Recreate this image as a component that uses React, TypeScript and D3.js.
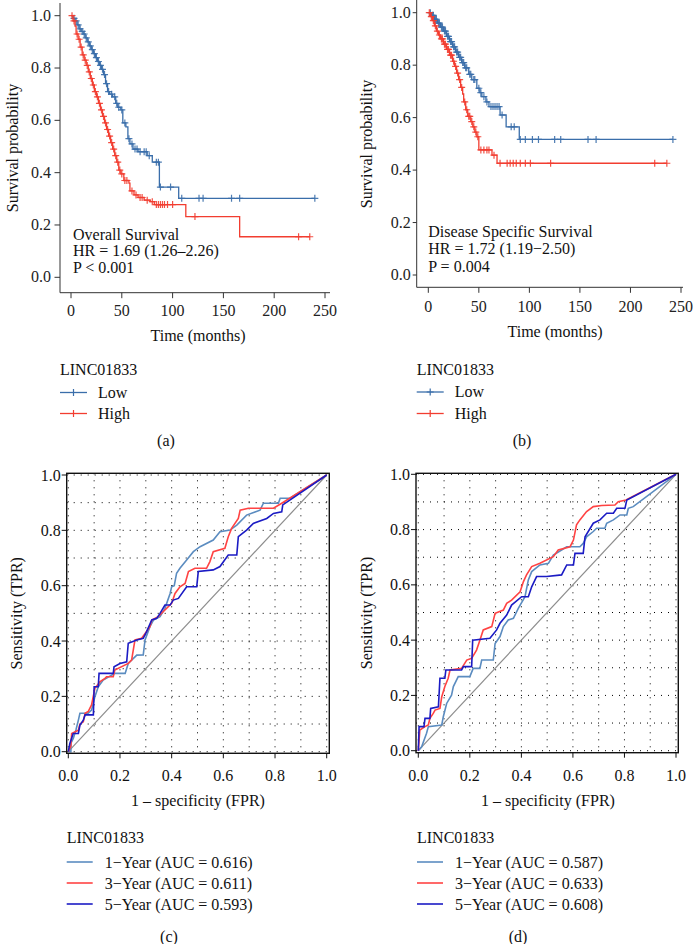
import React from "react";
import * as d3 from "d3";

const FONT = "'Liberation Serif','Times New Roman',serif";

// ---------- Kaplan-Meier data: [time (months), survival] after each drop ----------
const osLowSteps: [number, number][] = [
  [0, 1], [2, 0.99], [4, 0.98], [6, 0.965], [8, 0.95], [10, 0.94], [12, 0.93], [14, 0.915],
  [16, 0.9], [18, 0.885], [20, 0.87], [22, 0.855], [24, 0.84], [26, 0.825], [28, 0.81],
  [30, 0.795], [32, 0.775], [34, 0.74], [36, 0.71], [38, 0.7], [41, 0.69], [44, 0.665],
  [46, 0.65], [49, 0.64], [51, 0.59], [54, 0.575], [56, 0.53], [58, 0.51], [61, 0.49],
  [66, 0.48], [75, 0.465], [80, 0.44], [87, 0.345], [106, 0.302],
];
const osLowCensor = [3, 5, 7, 9, 11, 13, 15, 17, 19, 21, 23, 25, 27, 29, 31, 33, 35, 37, 40, 43, 45, 47, 50, 53, 57, 60, 63, 65, 68, 72, 74, 77, 84, 86, 88, 98, 109, 126, 130, 158, 166, 240];
const osHighSteps: [number, number][] = [
  [0, 1], [2, 0.98], [4, 0.96], [5, 0.93], [7, 0.91], [9, 0.88], [11, 0.85], [13, 0.83],
  [15, 0.81], [17, 0.785], [19, 0.76], [21, 0.735], [23, 0.71], [25, 0.69], [27, 0.665],
  [29, 0.64], [31, 0.615], [33, 0.59], [35, 0.565], [37, 0.54], [39, 0.515], [41, 0.49],
  [43, 0.465], [45, 0.44], [47, 0.41], [49, 0.395], [52, 0.37], [57, 0.36], [58, 0.33],
  [62, 0.315], [66, 0.305], [72, 0.295], [78, 0.289], [82, 0.278], [113, 0.232], [166, 0.155],
];
const osHighCensor = [1, 3, 6, 8, 10, 12, 14, 16, 18, 20, 22, 24, 26, 28, 30, 32, 34, 36, 38, 40, 42, 44, 46, 48, 50, 53, 55, 60, 64, 68, 70, 75, 80, 84, 86, 88, 90, 92, 95, 100, 122, 224, 235];

const dssLowSteps: [number, number][] = [
  [0, 1], [3, 0.99], [6, 0.975], [9, 0.96], [12, 0.945], [15, 0.93], [18, 0.91], [21, 0.89],
  [24, 0.87], [27, 0.85], [30, 0.83], [33, 0.81], [36, 0.79], [40, 0.765], [43, 0.745],
  [48, 0.712], [51, 0.695], [53, 0.68], [57, 0.66], [60, 0.642], [71, 0.61], [77, 0.565], [90, 0.517],
];
const dssLowCensor = [2, 4, 5, 7, 8, 10, 11, 13, 14, 16, 17, 19, 20, 22, 23, 25, 26, 28, 29, 31, 32, 34, 35, 37, 38, 41, 42, 45, 46, 50, 52, 55, 58, 62, 64, 66, 68, 70, 73, 82, 85, 91, 96, 103, 109, 125, 131, 158, 166, 242];
const dssHighSteps: [number, number][] = [
  [0, 1], [2, 0.985], [4, 0.97], [6, 0.95], [8, 0.93], [10, 0.915], [12, 0.9], [15, 0.88],
  [18, 0.86], [21, 0.838], [24, 0.815], [26, 0.795], [28, 0.77], [30, 0.745], [32, 0.715],
  [34, 0.69], [35, 0.66], [37, 0.63], [39, 0.605], [42, 0.585], [44, 0.565], [46, 0.545],
  [48, 0.527], [50, 0.477], [63, 0.457], [68, 0.426],
];
const dssHighCensor = [1, 3, 5, 7, 9, 11, 13, 14, 16, 17, 19, 20, 22, 23, 25, 27, 29, 31, 33, 36, 38, 40, 41, 43, 45, 47, 49, 52, 55, 58, 60, 65, 71, 78, 81, 84, 87, 91, 96, 101, 121, 224, 236];

const kmXTicks = [0, 50, 100, 150, 200, 250];
const kmYTicks = [0, 0.2, 0.4, 0.6, 0.8, 1.0];
const kmGroups = ["Low", "High"];

// ---------- ROC data: [FPR, TPR] ----------
const rocC1: [number, number][] = [[0,0],[0.01,0],[0.01,0.03],[0.02,0.05],[0.03,0.08],[0.039,0.114],[0.045,0.139],[0.077,0.139],[0.09,0.15],[0.103,0.199],[0.116,0.235],[0.135,0.259],[0.18,0.283],[0.22,0.283],[0.232,0.319],[0.265,0.349],[0.29,0.35],[0.297,0.404],[0.316,0.452],[0.33,0.476],[0.355,0.488],[0.374,0.518],[0.394,0.572],[0.4,0.596],[0.41,0.6],[0.419,0.645],[0.432,0.663],[0.458,0.693],[0.484,0.723],[0.51,0.741],[0.561,0.765],[0.587,0.795],[0.626,0.801],[0.652,0.819],[0.69,0.855],[0.742,0.873],[0.755,0.898],[0.813,0.898],[0.82,0.916],[0.858,0.916],[1,1]];
const rocC3: [number, number][] = [[0,0],[0.01,0.02],[0.013,0.066],[0.039,0.078],[0.045,0.1],[0.058,0.108],[0.065,0.139],[0.077,0.145],[0.09,0.169],[0.103,0.229],[0.123,0.253],[0.142,0.265],[0.148,0.271],[0.174,0.271],[0.18,0.295],[0.232,0.319],[0.245,0.331],[0.258,0.404],[0.284,0.41],[0.316,0.452],[0.323,0.476],[0.348,0.488],[0.374,0.512],[0.4,0.536],[0.413,0.572],[0.432,0.596],[0.452,0.608],[0.465,0.651],[0.49,0.663],[0.535,0.663],[0.548,0.687],[0.561,0.723],[0.606,0.735],[0.619,0.777],[0.632,0.807],[0.658,0.843],[0.665,0.873],[0.697,0.88],[0.794,0.88],[0.826,0.898],[1,1]];
const rocC5: [number, number][] = [[0,0],[0.006,0.03],[0.019,0.066],[0.039,0.066],[0.045,0.096],[0.058,0.114],[0.065,0.133],[0.097,0.133],[0.1,0.235],[0.116,0.235],[0.119,0.283],[0.174,0.283],[0.177,0.307],[0.2,0.319],[0.226,0.325],[0.232,0.392],[0.265,0.404],[0.29,0.41],[0.303,0.434],[0.323,0.476],[0.342,0.482],[0.355,0.5],[0.374,0.53],[0.394,0.53],[0.406,0.548],[0.426,0.554],[0.458,0.596],[0.497,0.596],[0.503,0.651],[0.561,0.657],[0.587,0.669],[0.619,0.711],[0.652,0.711],[0.658,0.777],[0.69,0.801],[0.716,0.825],[0.768,0.843],[0.794,0.861],[0.826,0.867],[0.83,0.892],[1,1]];
const rocD1: [number, number][] = [[0,0],[0.013,0.014],[0.032,0.063],[0.039,0.087],[0.091,0.093],[0.097,0.123],[0.11,0.171],[0.129,0.201],[0.136,0.232],[0.155,0.268],[0.2,0.268],[0.213,0.298],[0.239,0.298],[0.246,0.328],[0.291,0.328],[0.298,0.388],[0.317,0.413],[0.33,0.449],[0.349,0.473],[0.369,0.479],[0.388,0.515],[0.414,0.557],[0.427,0.618],[0.44,0.648],[0.472,0.672],[0.505,0.678],[0.524,0.708],[0.556,0.726],[0.576,0.738],[0.627,0.738],[0.64,0.75],[0.653,0.774],[0.679,0.793],[0.692,0.805],[0.724,0.805],[0.731,0.823],[0.757,0.835],[0.783,0.853],[0.809,0.853],[0.815,0.877],[0.834,0.883],[1,1]];
const rocD3: [number, number][] = [[0,0],[0.006,0.075],[0.026,0.087],[0.039,0.093],[0.045,0.117],[0.058,0.135],[0.065,0.147],[0.084,0.153],[0.091,0.195],[0.103,0.232],[0.116,0.262],[0.123,0.292],[0.168,0.298],[0.188,0.328],[0.207,0.334],[0.226,0.364],[0.239,0.4],[0.252,0.437],[0.285,0.449],[0.298,0.497],[0.33,0.509],[0.343,0.533],[0.362,0.545],[0.395,0.575],[0.408,0.612],[0.42,0.636],[0.44,0.666],[0.472,0.678],[0.524,0.702],[0.543,0.726],[0.589,0.738],[0.602,0.762],[0.614,0.817],[0.627,0.835],[0.653,0.865],[0.679,0.883],[0.712,0.887],[0.763,0.889],[0.776,0.901],[0.806,0.907],[1,1]];
const rocD5: [number, number][] = [[0,0],[0.003,0.087],[0.022,0.087],[0.026,0.117],[0.045,0.117],[0.048,0.153],[0.078,0.159],[0.084,0.262],[0.103,0.262],[0.107,0.292],[0.168,0.292],[0.175,0.304],[0.207,0.304],[0.211,0.4],[0.278,0.407],[0.304,0.437],[0.317,0.461],[0.343,0.491],[0.362,0.527],[0.401,0.557],[0.427,0.557],[0.44,0.593],[0.459,0.63],[0.498,0.63],[0.556,0.636],[0.576,0.672],[0.602,0.672],[0.608,0.714],[0.64,0.714],[0.647,0.774],[0.679,0.823],[0.705,0.835],[0.731,0.859],[0.757,0.859],[0.77,0.877],[0.802,0.877],[0.809,0.907],[1,1]];

const rocTicks = [0, 0.2, 0.4, 0.6, 0.8, 1.0];
const rocGrid = [0, 0.1, 0.2, 0.3, 0.4, 0.5, 0.6, 0.7, 0.8, 0.9, 1.0];
const rocLabelsC = ["1\u2212Year (AUC = 0.616)", "3\u2212Year (AUC = 0.611)", "5\u2212Year (AUC = 0.593)"];
const rocLabelsD = ["1\u2212Year (AUC = 0.587)", "3\u2212Year (AUC = 0.633)", "5\u2212Year (AUC = 0.608)"];

const GENE = "LINC01833";
const KM_COLORS = ["#3A6EAA", "#F23D30"];
const ROC_COLORS = ["#5B8CC0", "#FF4343", "#1B1BC4"];

function survAt(steps: [number, number][], t: number) {
  let s = 1;
  for (const [tt, v] of steps) {
    if (tt <= t) s = v;
    else break;
  }
  return s;
}

type KMCfg = {
  low: [number, number][]; lowC: number[]; high: [number, number][]; highC: number[];
  x0: number; x250: number; y1: number; y0: number; axisLeft: number; axisRight: number;
  axisTop: number; axisBottom: number; tickLen: number; labelGap: number;
  tickLabelY: number; titleY: number; titleX: number; yTitleX: number; yTitleY: number;
  annX: number; annY: number[]; ann: string[]; legX: number; legY: number[]; tag: string; tagX: number; tagY: number;
};

function KMPanel({ c }: { c: KMCfg }) {
  const x = d3.scaleLinear().domain([0, 250]).range([c.x0, c.x250]);
  const y = d3.scaleLinear().domain([0, 1]).range([c.y0, c.y1]);
  const line = d3.line<[number, number]>().x((d) => x(d[0])).y((d) => y(d[1])).curve(d3.curveStepAfter);
  const groups = [
    { steps: c.low, cens: c.lowC, color: KM_COLORS[0] },
    { steps: c.high, cens: c.highC, color: KM_COLORS[1] },
  ];
  const m = 3.5;
  return (
    <g fontFamily={FONT}>
      {groups.map((g, i) => {
        const maxT = d3.max(g.cens) as number;
        const pts: [number, number][] = [...g.steps, [maxT, g.steps[g.steps.length - 1][1]]];
        return (
          <g key={i}>
            <path d={line(pts) || ""} fill="none" stroke={g.color} strokeWidth={1.3} />
            {g.cens.map((t, j) => {
              const cx = x(t), cy = y(survAt(g.steps, t));
              return (
                <path key={j} d={`M${cx - m},${cy}H${cx + m}M${cx},${cy - m}V${cy + m}`} stroke={g.color} strokeWidth={1.2} opacity={0.9} />
              );
            })}
          </g>
        );
      })}
      <line x1={c.axisLeft} x2={c.axisLeft} y1={c.axisTop} y2={c.axisBottom} stroke="#333" strokeWidth={1} />
      <line x1={c.axisLeft} x2={c.axisRight} y1={c.axisBottom} y2={c.axisBottom} stroke="#333" strokeWidth={1} />
      {kmYTicks.map((t) => (
        <g key={t}>
          <line x1={c.axisLeft - c.tickLen} x2={c.axisLeft} y1={y(t)} y2={y(t)} stroke="#333" />
          <text x={c.axisLeft - c.tickLen - c.labelGap} y={y(t) + 5} textAnchor="end" fontSize={16} fill="#222">{t.toFixed(1)}</text>
        </g>
      ))}
      {kmXTicks.map((t) => (
        <g key={t}>
          <line x1={x(t)} x2={x(t)} y1={c.axisBottom} y2={c.axisBottom + 5.5} stroke="#333" />
          <text x={x(t)} y={c.tickLabelY} textAnchor="middle" fontSize={16} fill="#222">{t}</text>
        </g>
      ))}
      <text x={c.titleX} y={c.titleY} textAnchor="middle" fontSize={16} fill="#111">Time (months)</text>
      <text transform={`translate(${c.yTitleX},${c.yTitleY}) rotate(-90)`} textAnchor="middle" fontSize={16} fill="#111">Survival probability</text>
      {c.ann.map((s, i) => (
        <text key={i} x={c.annX} y={c.annY[i]} fontSize={16} fill="#111">{s}</text>
      ))}
      <text x={c.legX} y={c.legY[0]} fontSize={16} fill="#111">{GENE}</text>
      {kmGroups.map((g, i) => {
        const ly = c.legY[i + 1] - 5;
        const mid = c.legX + 13.5;
        return (
          <g key={g}>
            <line x1={c.legX} x2={c.legX + 27} y1={ly} y2={ly} stroke={KM_COLORS[i]} strokeWidth={1.3} />
            <path d={`M${mid - m},${ly}H${mid + m}M${mid},${ly - m}V${ly + m}`} stroke={KM_COLORS[i]} strokeWidth={1.2} />
            <text x={c.legX + 38} y={c.legY[i + 1]} fontSize={16} fill="#111">{g}</text>
          </g>
        );
      })}
      <text x={c.tagX} y={c.tagY} textAnchor="middle" fontSize={16} fill="#111">{c.tag}</text>
    </g>
  );
}

type ROCCfg = {
  curves: [number, number][][]; labels: string[];
  boxL: number; boxR: number; boxT: number; boxB: number;
  x0: number; x1: number; y0: number; y1: number;
  yTitleX: number; titleX: number; legX: number; tag: string; tagX: number;
};

function ROCPanel({ c }: { c: ROCCfg }) {
  const x = d3.scaleLinear().domain([0, 1]).range([c.x0, c.x1]);
  const y = d3.scaleLinear().domain([0, 1]).range([c.y0, c.y1]);
  const line = d3.line<[number, number]>().x((d) => x(d[0])).y((d) => y(d[1]));
  const legYs = [867.5, 888.5, 909.5];
  return (
    <g fontFamily={FONT}>
      {rocGrid.map((g) => (
        <g key={g}>
          <line x1={c.boxL} x2={c.boxR} y1={y(g)} y2={y(g)} stroke="#000" strokeWidth={1} strokeDasharray="1 6" />
          <line x1={x(g)} x2={x(g)} y1={c.boxT} y2={c.boxB} stroke="#000" strokeWidth={1} strokeDasharray="1 6" />
        </g>
      ))}
      <line x1={x(0)} y1={y(0)} x2={x(1)} y2={y(1)} stroke="#8c8c8c" strokeWidth={1.2} />
      {c.curves.map((cv, i) => (
        <path key={i} d={line(cv) || ""} fill="none" stroke={ROC_COLORS[i]} strokeWidth={1.6} />
      ))}
      <rect x={c.boxL} y={c.boxT} width={c.boxR - c.boxL} height={c.boxB - c.boxT} fill="none" stroke="#111" strokeWidth={1.4} />
      {rocTicks.map((t) => (
        <g key={t}>
          <line x1={c.boxL - 5} x2={c.boxL} y1={y(t)} y2={y(t)} stroke="#111" />
          <text x={c.boxL - 6} y={y(t) + 5.5} textAnchor="end" fontSize={16} fill="#111">{t.toFixed(1)}</text>
          <line x1={x(t)} x2={x(t)} y1={c.boxB} y2={c.boxB + 5} stroke="#111" />
          <text x={x(t)} y={780.5} textAnchor="middle" fontSize={16} fill="#111">{t.toFixed(1)}</text>
        </g>
      ))}
      <text x={c.titleX} y={805.5} textAnchor="middle" fontSize={16} fill="#111">1 – specificity (FPR)</text>
      <text transform={`translate(${c.yTitleX},${(c.boxT + c.boxB) / 2}) rotate(-90)`} textAnchor="middle" fontSize={16} fill="#111">Sensitivity (TPR)</text>
      <text x={c.legX} y={842.5} fontSize={16} fill="#111">{GENE}</text>
      {c.labels.map((s, i) => (
        <g key={i}>
          <line x1={c.legX} x2={c.legX + 26} y1={legYs[i] - 5.5} y2={legYs[i] - 5.5} stroke={ROC_COLORS[i]} strokeWidth={1.6} />
          <text x={c.legX + 38} y={legYs[i]} fontSize={16} fill="#111">{s}</text>
        </g>
      ))}
      <text x={c.tagX} y={942} textAnchor="middle" fontSize={16} fill="#111">{c.tag}</text>
    </g>
  );
}

export default function App() {
  const kmA: KMCfg = {
    low: osLowSteps, lowC: osLowCensor, high: osHighSteps, highC: osHighCensor,
    x0: 71, x250: 325, y1: 15.7, y0: 277.3, axisLeft: 60, axisRight: 330, axisTop: 3, axisBottom: 292.7,
    tickLen: 5.5, labelGap: 3.5, tickLabelY: 315.5, titleY: 340.5, titleX: 198, yTitleX: 18, yTitleY: 148,
    annX: 73, annY: [240, 256, 272.5], ann: ["Overall Survival", "HR = 1.69 (1.26–2.26)", "P < 0.001"],
    legX: 60, legY: [374.5, 397.5, 418.5], tag: "(a)", tagX: 166, tagY: 446,
  };
  const kmB: KMCfg = {
    low: dssLowSteps, lowC: dssLowCensor, high: dssHighSteps, highC: dssHighCensor,
    x0: 428.3, x250: 681, y1: 12.7, y0: 275, axisLeft: 416.7, axisRight: 683, axisTop: 0, axisBottom: 287.3,
    tickLen: 4, labelGap: 2, tickLabelY: 312.2, titleY: 337.2, titleX: 555, yTitleX: 372, yTitleY: 144,
    annX: 428.3, annY: [237, 253.5, 272], ann: ["Disease Specific Survival", "HR = 1.72 (1.19−2.50)", "P = 0.004"],
    legX: 416.7, legY: [374.5, 397, 418.5], tag: "(b)", tagX: 522, tagY: 446,
  };
  const rocC: ROCCfg = {
    curves: [rocC1, rocC3, rocC5], labels: rocLabelsC,
    boxL: 66.7, boxR: 329.3, boxT: 473.3, boxB: 753.3, x0: 68.3, x1: 326.7, y0: 751.7, y1: 475,
    yTitleX: 21.5, titleX: 198, legX: 66.7, tag: "(c)", tagX: 169,
  };
  const rocD: ROCCfg = {
    curves: [rocD1, rocD3, rocD5], labels: rocLabelsD,
    boxL: 416, boxR: 678.3, boxT: 473.3, boxB: 752.7, x0: 418.3, x1: 676, y0: 750.7, y1: 474.3,
    yTitleX: 372, titleX: 548, legX: 417, tag: "(d)", tagX: 518,
  };
  return (
    <svg width={693} height={944} style={{ position: "absolute", left: 0, top: 0, background: "#fff" }}>
      <rect width={693} height={944} fill="#fff" />
      <KMPanel c={kmA} />
      <KMPanel c={kmB} />
      <ROCPanel c={rocC} />
      <ROCPanel c={rocD} />
    </svg>
  );
}
